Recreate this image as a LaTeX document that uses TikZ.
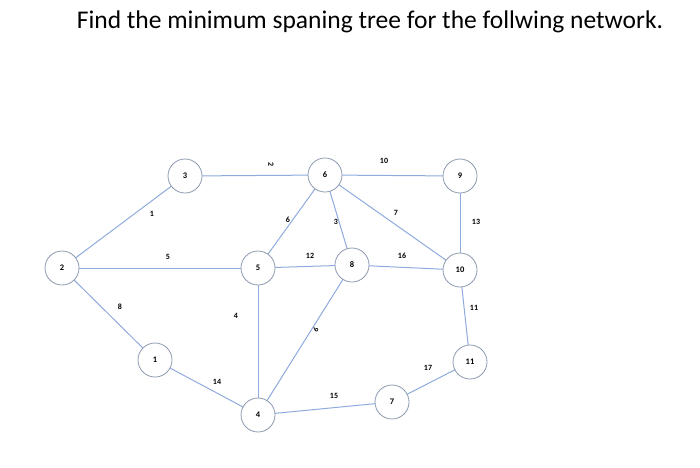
\documentclass[tikz,border=0pt]{standalone}
\usepackage{fontspec}
\setmainfont{Carlito}
\definecolor{edc}{HTML}{8FAADC}
\definecolor{ndc}{HTML}{8C9AB0}
\begin{document}
\begin{tikzpicture}[x=1pt,y=-1pt,
  nd/.style={circle,draw=ndc,fill=white,line width=0.8pt,minimum size=34pt,inner sep=0pt,font=\fontsize{8.5}{9}\selectfont\bfseries},
  ed/.style={draw=edc,line width=1pt},
  lb/.style={font=\fontsize{8}{9}\selectfont\bfseries,inner sep=0pt}]
\useasboundingbox (0,0) rectangle (700,467);
\draw[ed] (185,176)--(325,175);
\node[font=\fontsize{25.5}{30}\selectfont] (t) at (370,22) {Find the minimum spaning tree for the follwing network.};
\coordinate (c3) at (185,176); \coordinate (c6) at (325,175); \coordinate (c9) at (460,176);
\coordinate (c2) at (62,268); \coordinate (c5) at (258,268); \coordinate (c8) at (352,265);
\coordinate (c10) at (460,270); \coordinate (c1) at (155,360); \coordinate (c11) at (470,362);
\coordinate (c7) at (392,402); \coordinate (c4) at (258,415);
\draw[ed] (c2)--(c3); \draw[ed] (c6)--(c9);
\draw[ed] (c6)--(c5); \draw[ed] (c6)--(c8); \draw[ed] (c6)--(c10);
\draw[ed] (c9)--(c10); \draw[ed] (c2)--(c5); \draw[ed] (c5)--(c8);
\draw[ed] (c8)--(c10); \draw[ed] (c2)--(c1); \draw[ed] (c5)--(c4);
\draw[ed] (c8)--(c4); \draw[ed] (c10)--(c11); \draw[ed] (c1)--(c4);
\draw[ed] (c4)--(c7); \draw[ed] (c7)--(c11);
\node[nd] (n3) at (c3) {3};
\node[nd] (n6) at (c6) {6};
\node[nd] (n9) at (c9) {9};
\node[nd] (n2) at (c2) {2};
\node[nd] (n5) at (c5) {5};
\node[nd] (n8) at (c8) {8};
\node[nd] (n10) at (c10) {10};
\node[nd] (n1) at (c1) {1};
\node[nd] (n11) at (c11) {11};
\node[nd] (n7) at (c7) {7};
\node[nd] (n4) at (c4) {4};
\node[lb] (l1) at (152,214) {1};
\node[lb,rotate=-90] (l2) at (271,165) {2};
\node[lb] (l10) at (384,161) {10};
\node[lb] (l6) at (288,220) {6};
\node[lb] (l3) at (336,222) {3};
\node[lb] (l7) at (396,213) {7};
\node[lb] (l13) at (476,222) {13};
\node[lb] (l5) at (168,257) {5};
\node[lb] (l12) at (310,256) {12};
\node[lb] (l16) at (402,256) {16};
\node[lb] (l8) at (120,307) {8};
\node[lb] (l4) at (236,316) {4};
\node[lb,rotate=-120] (l9) at (316,330) {9};
\node[lb] (l11) at (474,308) {11};
\node[lb] (l14) at (217,382) {14};
\node[lb] (l15) at (334,396) {15};
\node[lb] (l17) at (428,368) {17};
\end{tikzpicture}
\end{document}
